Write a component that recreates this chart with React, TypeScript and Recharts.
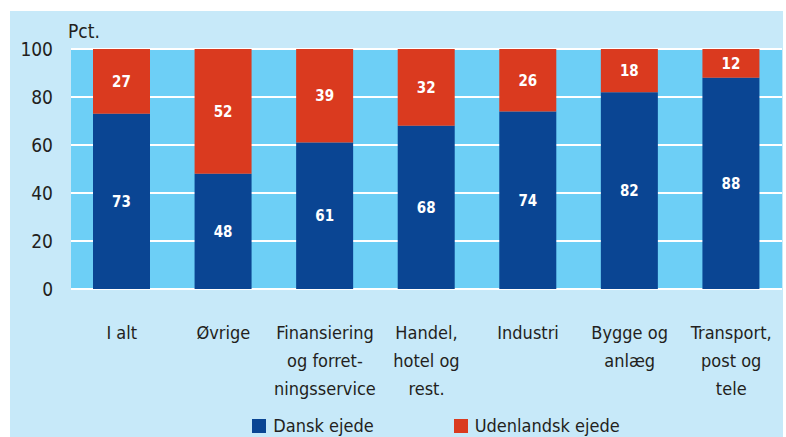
import {
  Bar,
  BarChart,
  CartesianGrid,
  LabelList,
  Legend,
  XAxis,
  YAxis,
} from "recharts";

const categories = [
  "I alt",
  "Øvrige",
  "Finansiering|og forret-|ningsservice",
  "Handel,|hotel og|rest.",
  "Industri",
  "Bygge og|anlæg",
  "Transport,|post og|tele",
];
const danskEjede = [73, 48, 61, 68, 74, 82, 88];
const udenlandskEjede = [27, 52, 39, 32, 26, 18, 12];
const yTicks = [0, 20, 40, 60, 80, 100];

const BLUE = "#0a4593";
const RED = "#da3a1f";
const FONT = "'DejaVu Sans Condensed', 'DejaVu Sans', sans-serif";
const TEXT = "#231f20";

const data = categories.map((c, i) => ({
  name: c,
  dansk: danskEjede[i],
  udenlandsk: udenlandskEjede[i],
}));

const CategoryTick = ({ x, y, payload }: any) => {
  const lines = String(payload.value).split("|");
  return (
    <text x={x} y={y} textAnchor="middle" fill={TEXT} fontSize={18} fontFamily={FONT}>
      {lines.map((l, i) => (
        <tspan key={i} x={x} y={y + 42 + i * 28}>
          {l}
        </tspan>
      ))}
    </text>
  );
};

const LegendContent = () => (
  <div
    style={{
      display: "flex",
      justifyContent: "center",
      gap: 80,
      fontFamily: FONT,
      fontSize: 18,
      color: TEXT,
      paddingTop: 8,
      paddingLeft: 80,
    }}
  >
    {[
      ["Dansk ejede", BLUE],
      ["Udenlandsk ejede", RED],
    ].map(([label, color]) => (
      <span key={label} style={{ display: "flex", alignItems: "center" }}>
        <span style={{ width: 14, height: 14, background: color, marginRight: 7 }} />
        {label}
      </span>
    ))}
  </div>
);

const App = () => (
  <div style={{ position: "absolute", left: 0, top: 0, width: 786, height: 437, background: "#fff" }}>
    <div style={{ position: "absolute", left: 10, top: 11, width: 773, height: 426, background: "#c7e9f9" }}>
      <BarChart
        width={773}
        height={426}
        data={data}
        margin={{ top: 38, right: 1, left: 0, bottom: 0 }}
      >
        <CartesianGrid vertical={false} stroke="#fff" strokeWidth={2} fill="#6dcff6" fillOpacity={1} />
        <XAxis
          dataKey="name"
          axisLine={false}
          tickLine={false}
          height={118}
          interval={0}
          tick={<CategoryTick />}
        />
        <YAxis
          domain={[0, 100]}
          ticks={yTicks}
          axisLine={false}
          tickLine={false}
          tickSize={0}
          tickMargin={18}
          width={61}
          tick={{ fill: TEXT, fontSize: 19, fontFamily: FONT }}
          label={{
            content: ({ viewBox }: any) => (
              <text x={viewBox.x + 58} y={viewBox.y - 11} fill={TEXT} fontSize={19} fontFamily={FONT}>
                Pct.
              </text>
            ),
          }}
        />
        <Legend verticalAlign="bottom" height={30} content={<LegendContent />} />
        <Bar dataKey="dansk" stackId="a" fill={BLUE} barSize={57} isAnimationActive={false}>
          <LabelList dataKey="dansk" position="center" fill="#fff" fontSize={15} fontWeight="bold" fontFamily={FONT} />
        </Bar>
        <Bar dataKey="udenlandsk" stackId="a" fill={RED} barSize={57} isAnimationActive={false}>
          <LabelList dataKey="udenlandsk" position="center" fill="#fff" fontSize={15} fontWeight="bold" fontFamily={FONT} />
        </Bar>
      </BarChart>
    </div>
  </div>
);

export default App;
